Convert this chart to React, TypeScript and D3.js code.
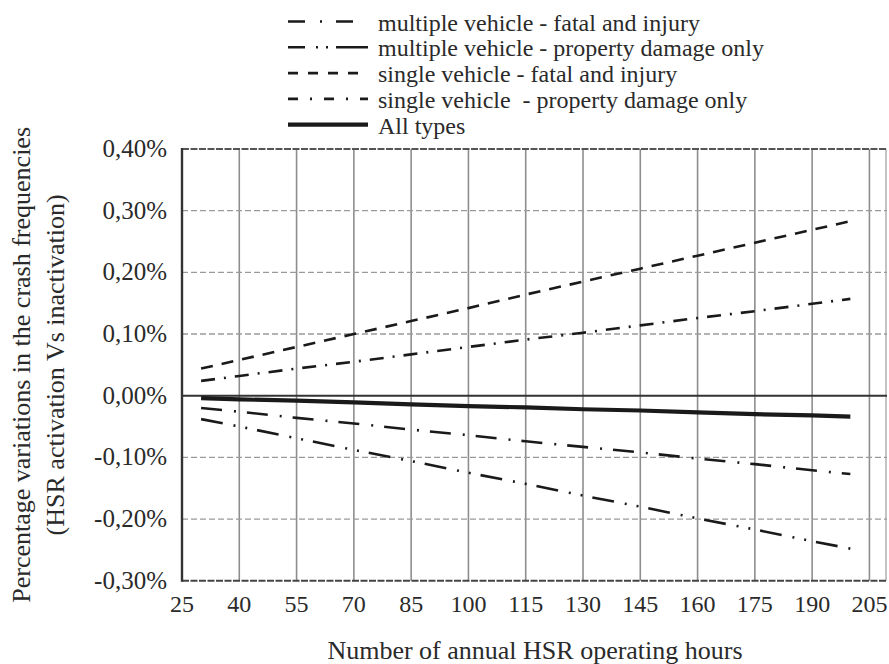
import React from "react";
import * as d3 from "d3";

const hours = [30, 40, 55, 70, 85, 100, 115, 130, 145, 160, 175, 190, 200];
const multiFatal = [-0.020, -0.026, -0.036, -0.045, -0.055, -0.064, -0.074, -0.083, -0.092, -0.102, -0.111, -0.121, -0.127];
const multiPDO = [-0.038, -0.050, -0.069, -0.088, -0.106, -0.125, -0.143, -0.162, -0.180, -0.199, -0.217, -0.236, -0.248];
const singleFatal = [0.044, 0.058, 0.079, 0.100, 0.121, 0.142, 0.164, 0.185, 0.206, 0.227, 0.248, 0.269, 0.283];
const singlePDO = [0.024, 0.032, 0.044, 0.055, 0.067, 0.079, 0.091, 0.102, 0.114, 0.126, 0.137, 0.149, 0.157];
const allTypes = [-0.004, -0.006, -0.008, -0.011, -0.014, -0.017, -0.019, -0.022, -0.024, -0.027, -0.030, -0.032, -0.034];

const xTicks = [25, 40, 55, 70, 85, 100, 115, 130, 145, 160, 175, 190, 205];
const yTicks = [0.4, 0.3, 0.2, 0.1, 0.0, -0.1, -0.2, -0.3];
const seriesNames = [
  "multiple vehicle - fatal and injury",
  "multiple vehicle - property damage only",
  "single vehicle - fatal and injury",
  "single vehicle  - property damage only",
  "All types",
];

const W = 889;
const H = 664;
const FONT = "Liberation Serif";
const TXT = "#2a2a2a";

const x = d3.scaleLinear().domain([25, 209.6]).range([182, 887]);
const y = d3.scaleLinear().domain([-0.3, 0.4]).range([580.7, 149]);

const fmtPct = (v: number) => v.toFixed(2).replace(".", ",") + "%";

const seriesValues = [multiFatal, multiPDO, singleFatal, singlePDO, allTypes];
const seriesDash = ["21,12,2,11", "22,11,2,10,2,10", "12,9", "14,9,2,9", null];
const seriesWidth = [2.6, 2.6, 2.6, 2.6, 4.2];
const legendDash = ["17,15,2,14", "17,11,2,8,2,8,40", "10,10", "10,12,2,12", null];

const ts = (size: number): React.CSSProperties => ({
  fontFamily: FONT,
  fontSize: size + "px",
  whiteSpace: "pre",
});

export default function App() {
  const line = d3
    .line<[number, number]>()
    .x((d) => x(d[0]))
    .y((d) => y(d[1]));

  const [x0, x1] = x.range();
  const [yb, yt] = y.range();

  return (
    <svg
      width={W}
      height={H}
      style={{ position: "absolute", left: 0, top: 0, background: "#fff", fontFamily: FONT }}
    >
      <rect x={0} y={0} width={W} height={H} fill="#fff" />
      {/* vertical gridlines */}
      {xTicks.slice(1).map((t) => (
        <line key={"vx" + t} x1={x(t)} x2={x(t)} y1={yt} y2={yb} stroke="#8e8e8e" strokeWidth={1.6} />
      ))}
      <line x1={x1 - 1} x2={x1 - 1} y1={yt} y2={yb} stroke="#b5b5b5" strokeWidth={1.6} />
      {/* horizontal gridlines */}
      {yTicks
        .filter((t) => t !== 0 && t !== 0.4 && t !== -0.3)
        .map((t) => (
          <line key={"hy" + t} x1={x0} x2={x1} y1={y(t)} y2={y(t)} stroke="#9a9a9a" strokeWidth={1.3} strokeDasharray="6,3" />
        ))}
      {/* top border */}
      <line x1={x0} x2={x1} y1={y(0.4)} y2={y(0.4)} stroke="#555" strokeWidth={2} strokeDasharray="7,1.5" />
      {/* zero line */}
      <line x1={x0} x2={x1} y1={y(0)} y2={y(0)} stroke="#333" strokeWidth={2} />
      {/* bottom axis */}
      <line x1={x0} x2={x1} y1={yb} y2={yb} stroke="#444" strokeWidth={2} strokeDasharray="7,1.5" />
      {/* left axis */}
      <line x1={x0} x2={x0} y1={yt - 1} y2={yb + 1} stroke="#333" strokeWidth={2.4} />

      {/* series */}
      {seriesValues.map((vals, i) => (
        <path
          key={"s" + i}
          d={line(hours.map((h, j) => [h, vals[j]] as [number, number])) || ""}
          fill="none"
          stroke="#1a1a1a"
          strokeWidth={seriesWidth[i]}
          strokeDasharray={seriesDash[i] || undefined}
        />
      ))}

      {/* y tick labels */}
      {yTicks.map((t) => (
        <text key={"yt" + t} x={167} y={y(t) + 8} textAnchor="end" style={ts(25)} fill={TXT}>
          {fmtPct(t)}
        </text>
      ))}
      {/* x tick labels */}
      {xTicks.map((t) => (
        <text key={"xt" + t} x={x(t)} y={612} textAnchor="middle" style={ts(24)} fill={TXT}>
          {t}
        </text>
      ))}

      {/* axis titles */}
      <text x={535} y={659} textAnchor="middle" style={ts(26)} fill={TXT}>
        Number of annual HSR operating hours
      </text>
      <text
        transform={`translate(21, ${(yt + yb) / 2}) rotate(-90)`}
        textAnchor="middle"
        dominantBaseline="central"
        style={ts(26)}
        fill={TXT}
      >
        Percentage variations in the crash frequencies
      </text>
      <text
        transform={`translate(55, ${(yt + yb) / 2}) rotate(-90)`}
        textAnchor="middle"
        dominantBaseline="central"
        style={ts(26)}
        fill={TXT}
      >
        (HSR activation Vs inactivation)
      </text>

      {/* legend */}
      {seriesNames.map((name, i) => {
        const base = 30.5 + i * 25.8;
        return (
          <g key={"lg" + i}>
            <line
              x1={288}
              x2={368}
              y1={base - 9}
              y2={base - 9}
              stroke="#1a1a1a"
              strokeWidth={i === 4 ? 4.2 : 2.6}
              strokeDasharray={legendDash[i] || undefined}
            />
            <text x={378} y={base} style={ts(24)} fill={TXT}>
              {name}
            </text>
          </g>
        );
      })}
    </svg>
  );
}
